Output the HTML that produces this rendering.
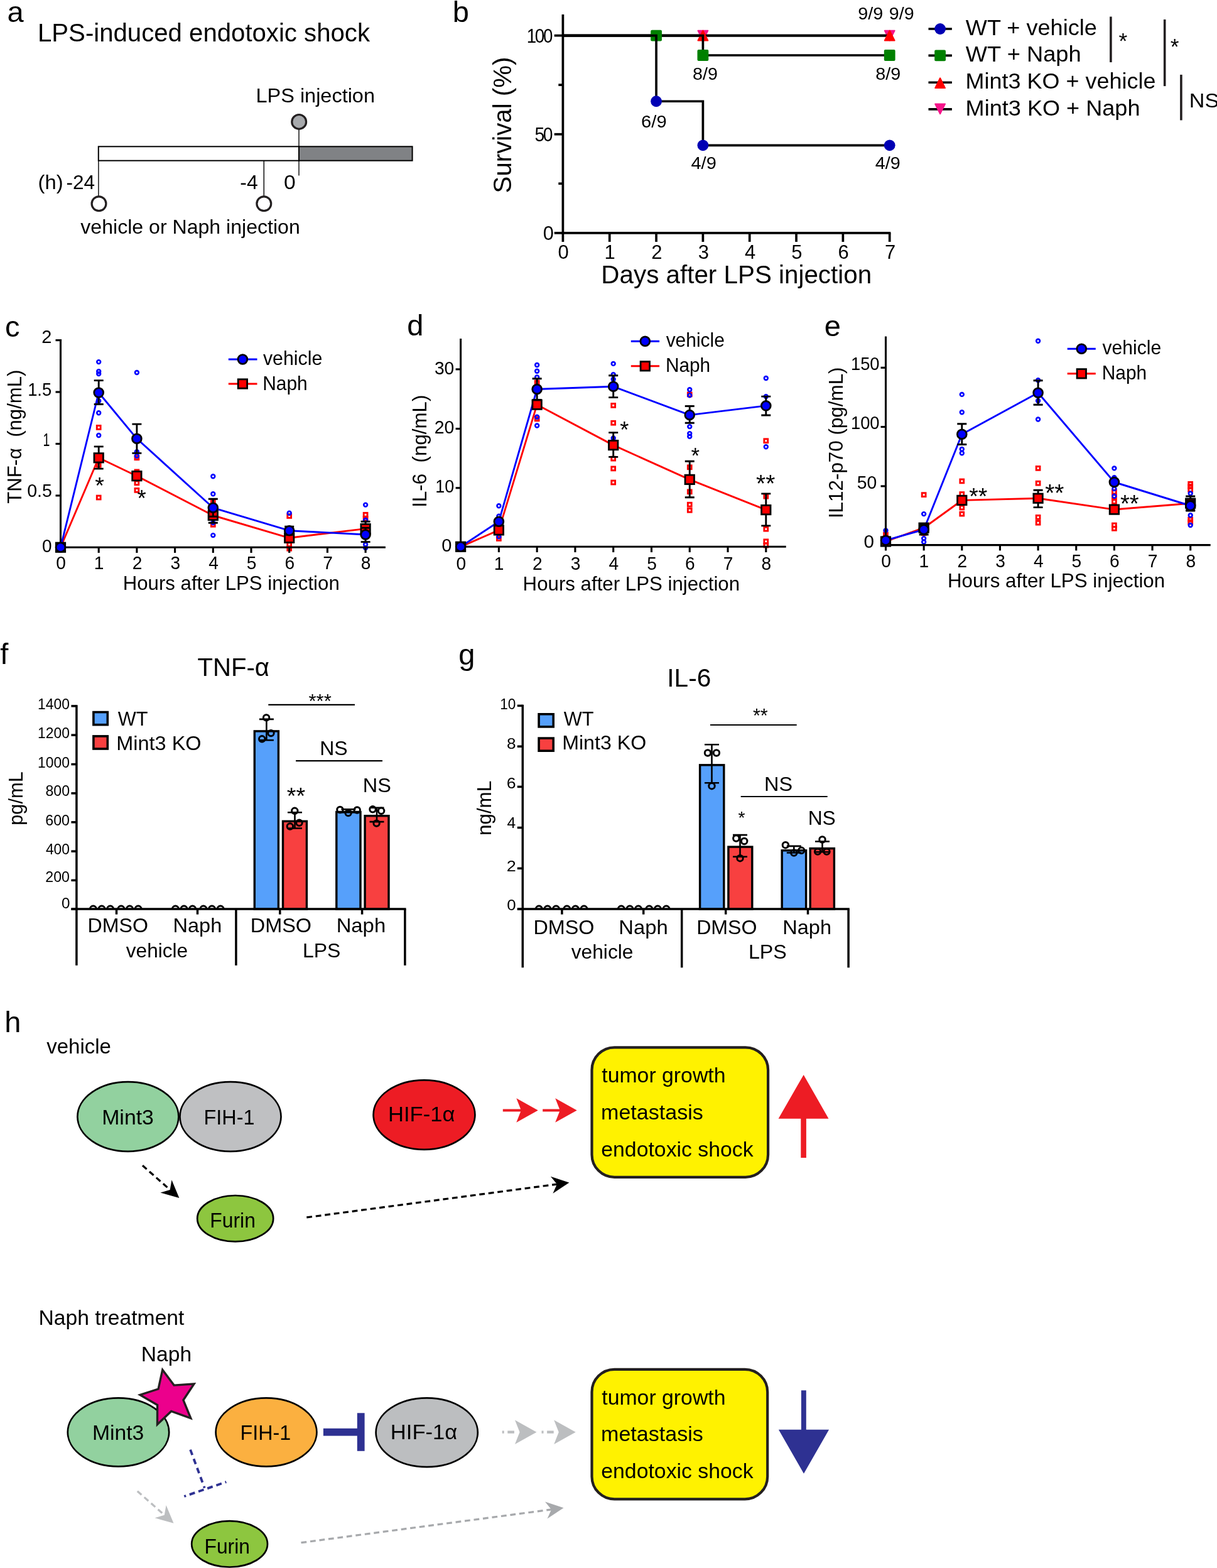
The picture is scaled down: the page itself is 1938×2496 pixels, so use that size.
<!DOCTYPE html>
<html lang="en">
<head>
<meta charset="utf-8">
<title>Figure: Naph attenuates LPS-induced endotoxic shock</title>
<style>
html,body{margin:0;padding:0;background:#fff;}
body{width:1938px;height:2496px;overflow:hidden;}
svg{display:block;}
svg text{font-family:"Liberation Sans",sans-serif;fill:#000;white-space:pre;}
</style>
</head>
<body>
<svg width="1938" height="2496" viewBox="0 0 1938 2496">
<rect width="1938" height="2496" fill="#fff"/>
<g id="pa">
<text x="11.58" y="35.4" font-size="47">a</text>
<text x="59.99" y="66" font-size="40" textLength="529.02" lengthAdjust="spacingAndGlyphs">LPS-induced endotoxic shock</text>
<rect x="476" y="233.3" width="180.6" height="22.4" fill="#808285" stroke="#000" stroke-width="2"/>
<rect x="156.8" y="233.3" width="319.2" height="22.4" fill="#fff" stroke="#000" stroke-width="2"/>
<line x1="156.9" y1="256" x2="156.9" y2="312" stroke-width="1.4" stroke="#000"/>
<line x1="420.3" y1="256" x2="420.3" y2="312" stroke-width="1.4" stroke="#000"/>
<line x1="476" y1="206" x2="476" y2="279.5" stroke-width="1.4" stroke="#000"/>
<circle cx="157.5" cy="324.3" r="11.4" fill="#fff" stroke="#231f20" stroke-width="3.2"/>
<circle cx="420.3" cy="324.3" r="11.4" fill="#fff" stroke="#231f20" stroke-width="3.2"/>
<circle cx="476.2" cy="193.9" r="11.4" fill="#a7a9ac" stroke="#231f20" stroke-width="3.2"/>
<text x="407.5" y="162.7" font-size="32" textLength="189.48" lengthAdjust="spacingAndGlyphs">LPS injection</text>
<text x="60.54" y="300.7" font-size="32" textLength="40" lengthAdjust="spacingAndGlyphs">(h)</text>
<text x="105.58" y="300.7" font-size="32" textLength="45.58" lengthAdjust="spacingAndGlyphs">-24</text>
<text x="382.26" y="300.7" font-size="32" textLength="28.37" lengthAdjust="spacingAndGlyphs">-4</text>
<text x="451.95" y="300.7" font-size="32" textLength="18.73" lengthAdjust="spacingAndGlyphs">0</text>
<text x="128.34" y="372" font-size="32" textLength="349.46" lengthAdjust="spacingAndGlyphs">vehicle or Naph injection</text>
</g>
<g id="pb">
<text x="720.75" y="35.4" font-size="47">b</text>
<g stroke="#000" stroke-width="3.7" stroke-linecap="butt">
<line x1="896.4" y1="23" x2="896.4" y2="372.4"/>
<line x1="882.7" y1="370.8" x2="1418.31" y2="370.8"/>
<line x1="882.7" y1="56.6" x2="896.4" y2="56.6"/>
<line x1="882.7" y1="213.7" x2="896.4" y2="213.7"/>
<line x1="889.3" y1="135.15" x2="896.4" y2="135.15"/>
<line x1="889.3" y1="292.25" x2="896.4" y2="292.25"/>
<line x1="896.4" y1="370.8" x2="896.4" y2="385"/>
<line x1="970.73" y1="370.8" x2="970.73" y2="385"/>
<line x1="1045.06" y1="370.8" x2="1045.06" y2="385"/>
<line x1="1119.39" y1="370.8" x2="1119.39" y2="385"/>
<line x1="1193.72" y1="370.8" x2="1193.72" y2="385"/>
<line x1="1268.05" y1="370.8" x2="1268.05" y2="385"/>
<line x1="1342.38" y1="370.8" x2="1342.38" y2="385"/>
<line x1="1416.71" y1="370.8" x2="1416.71" y2="385"/>
</g>
<path d="M896.4,56.6 H1416.71" fill="none" stroke="#000" stroke-width="3.7"/>
<path d="M1119.39,64.5 L1127.29,48.7 L1111.49,48.7 Z" fill="#f5158a" stroke="#f5158a" stroke-width="2" stroke-linejoin="round"/>
<path d="M1416.71,64.5 L1424.61,48.7 L1408.81,48.7 Z" fill="#f5158a" stroke="#f5158a" stroke-width="2" stroke-linejoin="round"/>
<path d="M896.4,56.6 H1416.71" fill="none" stroke="#000" stroke-width="3.7"/>
<path d="M1119.39,48.7 L1127.29,64.5 L1111.49,64.5 Z" fill="#ff0000" stroke="#ff0000" stroke-width="2" stroke-linejoin="round"/>
<path d="M1416.71,48.7 L1424.61,64.5 L1408.81,64.5 Z" fill="#ff0000" stroke="#ff0000" stroke-width="2" stroke-linejoin="round"/>
<path d="M896.4,56.6 H1119.39 V88.02 H1416.71" fill="none" stroke="#000" stroke-width="3.7"/>
<rect x="1036.16" y="47.7" width="17.8" height="17.8" rx="2" fill="#008000"/>
<rect x="1110.49" y="79.12" width="17.8" height="17.8" rx="2" fill="#008000"/>
<rect x="1407.81" y="79.12" width="17.8" height="17.8" rx="2" fill="#008000"/>
<path d="M896.4,56.6 H1045.06 V161.23 H1119.39 V231.3 H1416.71" fill="none" stroke="#000" stroke-width="3.7"/>
<circle cx="1045.06" cy="161.23" r="8.9" fill="#0000b4"/>
<circle cx="1119.39" cy="231.3" r="8.9" fill="#0000b4"/>
<circle cx="1416.71" cy="231.3" r="8.9" fill="#0000b4"/>
<text transform="translate(838.72,67.6) scale(0.8940,1)" font-size="31" letter-spacing="-2.55">100</text>
<text transform="translate(851.47,225) scale(0.9127,1)" font-size="31" letter-spacing="-2.79">50</text>
<text x="864.77" y="381.8" font-size="31" textLength="17.09" lengthAdjust="spacingAndGlyphs">0</text>
<text x="888.6" y="412" font-size="31" textLength="17.24" lengthAdjust="spacingAndGlyphs">0</text>
<text x="962.54" y="412" font-size="31" textLength="17.24" lengthAdjust="spacingAndGlyphs">1</text>
<text x="1037.26" y="412" font-size="31" textLength="17.24" lengthAdjust="spacingAndGlyphs">2</text>
<text x="1111.66" y="412" font-size="31" textLength="17.24" lengthAdjust="spacingAndGlyphs">3</text>
<text x="1185.99" y="412" font-size="31" textLength="17.24" lengthAdjust="spacingAndGlyphs">4</text>
<text x="1260.25" y="412" font-size="31" textLength="17.24" lengthAdjust="spacingAndGlyphs">5</text>
<text x="1334.5" y="412" font-size="31" textLength="17.24" lengthAdjust="spacingAndGlyphs">6</text>
<text x="1408.91" y="412" font-size="31" textLength="17.24" lengthAdjust="spacingAndGlyphs">7</text>
<g transform="translate(813.6,305.6) rotate(-90)"><text x="-1.81" y="0" font-size="41.5" textLength="216.82" lengthAdjust="spacingAndGlyphs">Survival (%)</text></g>
<text x="957.37" y="451" font-size="40" textLength="430.74" lengthAdjust="spacingAndGlyphs">Days after LPS injection</text>
<text x="1021.14" y="202.8" font-size="27" textLength="40.47" lengthAdjust="spacingAndGlyphs">6/9</text>
<text x="1103.11" y="127.4" font-size="27" textLength="39.78" lengthAdjust="spacingAndGlyphs">8/9</text>
<text x="1100.47" y="268.5" font-size="27" textLength="40.34" lengthAdjust="spacingAndGlyphs">4/9</text>
<text x="1394.31" y="127.4" font-size="27" textLength="39.99" lengthAdjust="spacingAndGlyphs">8/9</text>
<text x="1393.78" y="268.5" font-size="27" textLength="40.02" lengthAdjust="spacingAndGlyphs">4/9</text>
<text x="1366.2" y="31" font-size="27" textLength="40.1" lengthAdjust="spacingAndGlyphs">9/9</text>
<text x="1415.81" y="31" font-size="27" textLength="39.78" lengthAdjust="spacingAndGlyphs">9/9</text>
<line x1="1478.5" y1="46" x2="1515.9" y2="46" stroke-width="3.6" stroke="#000"/>
<line x1="1478.5" y1="88.4" x2="1515.9" y2="88.4" stroke-width="3.6" stroke="#000"/>
<line x1="1478.5" y1="131.3" x2="1515.9" y2="131.3" stroke-width="3.6" stroke="#000"/>
<line x1="1478.5" y1="173.9" x2="1515.9" y2="173.9" stroke-width="3.6" stroke="#000"/>
<circle cx="1497.1" cy="46" r="8.9" fill="#0000b4"/>
<rect x="1488.2" y="79.5" width="17.8" height="17.8" rx="2" fill="#008000"/>
<path d="M1497.1,124.3 L1505,140.1 L1489.2,140.1 Z" fill="#ff0000" stroke="#ff0000" stroke-width="2" stroke-linejoin="round"/>
<path d="M1497.1,181.3 L1505,165.5 L1489.2,165.5 Z" fill="#f5158a" stroke="#f5158a" stroke-width="2" stroke-linejoin="round"/>
<text x="1537.82" y="55.7" font-size="35.3" textLength="209.07" lengthAdjust="spacingAndGlyphs">WT + vehicle</text>
<text x="1537.82" y="98.2" font-size="35.3" textLength="183.91" lengthAdjust="spacingAndGlyphs">WT + Naph</text>
<text x="1537.62" y="141.2" font-size="35.3" textLength="302.81" lengthAdjust="spacingAndGlyphs">Mint3 KO + vehicle</text>
<text x="1537.61" y="184" font-size="35.3" textLength="277.85" lengthAdjust="spacingAndGlyphs">Mint3 KO + Naph</text>
<line x1="1768.9" y1="26.5" x2="1768.9" y2="99.1" stroke-width="3.6" stroke="#231f20"/>
<line x1="1854.7" y1="31" x2="1854.7" y2="137.1" stroke-width="3.6" stroke="#231f20"/>
<line x1="1880.9" y1="118.9" x2="1880.9" y2="191.4" stroke-width="3.6" stroke="#231f20"/>
<text x="1781.49" y="76.65" font-size="35.43" textLength="13.79" lengthAdjust="spacingAndGlyphs">*</text>
<text x="1863.69" y="86.35" font-size="35.43" textLength="13.79" lengthAdjust="spacingAndGlyphs">*</text>
<text x="1893.88" y="171.2" font-size="31.6" textLength="47.3" lengthAdjust="spacingAndGlyphs">NS</text>
</g>
<g id="pc">
<g>
<rect x="154.3" y="677.5" width="5.8" height="5.8" fill="none" stroke="#ff0000" stroke-width="2.9"/>
<rect x="154.3" y="737.5" width="5.8" height="5.8" fill="none" stroke="#ff0000" stroke-width="2.9"/>
<rect x="154.3" y="789.1" width="5.8" height="5.8" fill="none" stroke="#ff0000" stroke-width="2.9"/>
<rect x="215" y="725.9" width="5.8" height="5.8" fill="none" stroke="#ff0000" stroke-width="2.9"/>
<rect x="215" y="748" width="5.8" height="5.8" fill="none" stroke="#ff0000" stroke-width="2.9"/>
<rect x="215" y="765.9" width="5.8" height="5.8" fill="none" stroke="#ff0000" stroke-width="2.9"/>
<rect x="215" y="777.5" width="5.8" height="5.8" fill="none" stroke="#ff0000" stroke-width="2.9"/>
<rect x="336.4" y="796.4" width="5.8" height="5.8" fill="none" stroke="#ff0000" stroke-width="2.9"/>
<rect x="336.4" y="832.4" width="5.8" height="5.8" fill="none" stroke="#ff0000" stroke-width="2.9"/>
<rect x="457.8" y="818.6" width="5.8" height="5.8" fill="none" stroke="#ff0000" stroke-width="2.9"/>
<rect x="457.8" y="863.9" width="5.8" height="5.8" fill="none" stroke="#ff0000" stroke-width="2.9"/>
<rect x="457.8" y="870.4" width="5.8" height="5.8" fill="none" stroke="#ff0000" stroke-width="2.9"/>
<rect x="579.2" y="816.4" width="5.8" height="5.8" fill="none" stroke="#ff0000" stroke-width="2.9"/>
<rect x="579.2" y="822.9" width="5.8" height="5.8" fill="none" stroke="#ff0000" stroke-width="2.9"/>
<rect x="579.2" y="834.4" width="5.8" height="5.8" fill="none" stroke="#ff0000" stroke-width="2.9"/>
<circle cx="157.2" cy="576.1" r="2.85" fill="none" stroke="#0000ff" stroke-width="2.7"/>
<circle cx="157.2" cy="591.3" r="2.85" fill="none" stroke="#0000ff" stroke-width="2.7"/>
<circle cx="157.2" cy="595.1" r="2.85" fill="none" stroke="#0000ff" stroke-width="2.7"/>
<circle cx="157.2" cy="638.3" r="2.85" fill="none" stroke="#0000ff" stroke-width="2.7"/>
<circle cx="157.2" cy="657.2" r="2.85" fill="none" stroke="#0000ff" stroke-width="2.7"/>
<circle cx="157.2" cy="693" r="2.85" fill="none" stroke="#0000ff" stroke-width="2.7"/>
<circle cx="217.9" cy="593" r="2.85" fill="none" stroke="#0000ff" stroke-width="2.7"/>
<circle cx="217.9" cy="719.3" r="2.85" fill="none" stroke="#0000ff" stroke-width="2.7"/>
<circle cx="217.9" cy="725.7" r="2.85" fill="none" stroke="#0000ff" stroke-width="2.7"/>
<circle cx="339.3" cy="758.3" r="2.85" fill="none" stroke="#0000ff" stroke-width="2.7"/>
<circle cx="339.3" cy="786.2" r="2.85" fill="none" stroke="#0000ff" stroke-width="2.7"/>
<circle cx="339.3" cy="832.1" r="2.85" fill="none" stroke="#0000ff" stroke-width="2.7"/>
<circle cx="339.3" cy="852.1" r="2.85" fill="none" stroke="#0000ff" stroke-width="2.7"/>
<circle cx="460.7" cy="816.7" r="2.85" fill="none" stroke="#0000ff" stroke-width="2.7"/>
<circle cx="460.7" cy="848.3" r="2.85" fill="none" stroke="#0000ff" stroke-width="2.7"/>
<circle cx="582.1" cy="803.6" r="2.85" fill="none" stroke="#0000ff" stroke-width="2.7"/>
<circle cx="582.1" cy="827.9" r="2.85" fill="none" stroke="#0000ff" stroke-width="2.7"/>
<circle cx="582.1" cy="866.8" r="2.85" fill="none" stroke="#0000ff" stroke-width="2.7"/>
<circle cx="582.1" cy="872.1" r="2.85" fill="none" stroke="#0000ff" stroke-width="2.7"/>
</g>
<g stroke="#000" stroke-width="3.1">
<line x1="96.5" y1="540.1" x2="96.5" y2="880.1"/>
<line x1="88.5" y1="871.3" x2="613.9" y2="871.3"/>
<line x1="88.5" y1="541.6" x2="96.5" y2="541.6"/>
<line x1="88.5" y1="624" x2="96.5" y2="624"/>
<line x1="88.5" y1="706.45" x2="96.5" y2="706.45"/>
<line x1="88.5" y1="788.9" x2="96.5" y2="788.9"/>
<line x1="88.5" y1="871.3" x2="96.5" y2="871.3"/>
<line x1="157.2" y1="871.3" x2="157.2" y2="880.1"/>
<line x1="217.9" y1="871.3" x2="217.9" y2="880.1"/>
<line x1="278.6" y1="871.3" x2="278.6" y2="880.1"/>
<line x1="339.3" y1="871.3" x2="339.3" y2="880.1"/>
<line x1="400" y1="871.3" x2="400" y2="880.1"/>
<line x1="460.7" y1="871.3" x2="460.7" y2="880.1"/>
<line x1="521.4" y1="871.3" x2="521.4" y2="880.1"/>
<line x1="582.1" y1="871.3" x2="582.1" y2="880.1"/>
</g>
<path d="M96.5,871.3 L157.2,728.8 L217.9,757.7 L339.3,820.5 L460.7,856.3 L582.1,841.6" fill="none" stroke="#ff0000" stroke-width="2.9" stroke-linejoin="round"/>
<path d="M96.5,871.3 L157.2,625 L217.9,698.3 L339.3,808.3 L460.7,844.7 L582.1,851" fill="none" stroke="#0000ff" stroke-width="2.9" stroke-linejoin="round"/>
<path d="M157.2,710.9 V746.1 M149.7,710.9 H164.7 M149.7,746.1 H164.7" fill="none" stroke="#000" stroke-width="2.9"/>
<path d="M339.3,808.3 V832.3 M331.8,808.3 H346.8 M331.8,832.3 H346.8" fill="none" stroke="#000" stroke-width="2.9"/>
<path d="M460.7,849.3 V863.3 M453.2,849.3 H468.2 M453.2,863.3 H468.2" fill="none" stroke="#000" stroke-width="2.9"/>
<path d="M582.1,830.3 V852.3 M574.6,830.3 H589.6 M574.6,852.3 H589.6" fill="none" stroke="#000" stroke-width="2.9"/>
<rect x="89.3" y="864.1" width="14.4" height="14.4" fill="#ff0000" stroke="#000" stroke-width="2.8"/>
<rect x="150" y="721.6" width="14.4" height="14.4" fill="#ff0000" stroke="#000" stroke-width="2.8"/>
<rect x="210.7" y="750.5" width="14.4" height="14.4" fill="#ff0000" stroke="#000" stroke-width="2.8"/>
<rect x="332.1" y="813.3" width="14.4" height="14.4" fill="#ff0000" stroke="#000" stroke-width="2.8"/>
<rect x="453.5" y="849.1" width="14.4" height="14.4" fill="#ff0000" stroke="#000" stroke-width="2.8"/>
<rect x="574.9" y="834.4" width="14.4" height="14.4" fill="#ff0000" stroke="#000" stroke-width="2.8"/>
<path d="M157.2,605.6 V643.5 M149.7,605.6 H164.7 M149.7,643.5 H164.7" fill="none" stroke="#000" stroke-width="2.9"/>
<path d="M217.9,675.1 V721.4 M210.4,675.1 H225.4 M210.4,721.4 H225.4" fill="none" stroke="#000" stroke-width="2.9"/>
<path d="M339.3,794.2 V822.3 M331.8,794.2 H346.8 M331.8,822.3 H346.8" fill="none" stroke="#000" stroke-width="2.9"/>
<path d="M460.7,838.3 V851.3 M453.2,838.3 H468.2 M453.2,851.3 H468.2" fill="none" stroke="#000" stroke-width="2.9"/>
<path d="M582.1,840.3 V862.6 M574.6,840.3 H589.6 M574.6,862.6 H589.6" fill="none" stroke="#000" stroke-width="2.9"/>
<circle cx="96.5" cy="871.3" r="7.4" fill="#0000ff" stroke="#000" stroke-width="2.8"/>
<circle cx="157.2" cy="625" r="7.4" fill="#0000ff" stroke="#000" stroke-width="2.8"/>
<circle cx="217.9" cy="698.3" r="7.4" fill="#0000ff" stroke="#000" stroke-width="2.8"/>
<circle cx="339.3" cy="808.3" r="7.4" fill="#0000ff" stroke="#000" stroke-width="2.8"/>
<circle cx="460.7" cy="844.7" r="7.4" fill="#0000ff" stroke="#000" stroke-width="2.8"/>
<circle cx="582.1" cy="851" r="7.4" fill="#0000ff" stroke="#000" stroke-width="2.8"/>
<text x="89.29" y="906.2" font-size="29" textLength="15.65" lengthAdjust="spacingAndGlyphs">0</text>
<text x="149.64" y="906.2" font-size="29" textLength="15.65" lengthAdjust="spacingAndGlyphs">1</text>
<text x="210.69" y="906.2" font-size="29" textLength="15.65" lengthAdjust="spacingAndGlyphs">2</text>
<text x="271.46" y="906.2" font-size="29" textLength="15.65" lengthAdjust="spacingAndGlyphs">3</text>
<text x="332.16" y="906.2" font-size="29" textLength="15.65" lengthAdjust="spacingAndGlyphs">4</text>
<text x="392.79" y="906.2" font-size="29" textLength="15.65" lengthAdjust="spacingAndGlyphs">5</text>
<text x="453.42" y="906.2" font-size="29" textLength="15.65" lengthAdjust="spacingAndGlyphs">6</text>
<text x="514.19" y="906.2" font-size="29" textLength="15.65" lengthAdjust="spacingAndGlyphs">7</text>
<text x="574.82" y="906.2" font-size="29" textLength="15.65" lengthAdjust="spacingAndGlyphs">8</text>
<text x="66.35" y="546" font-size="29" textLength="16.14" lengthAdjust="spacingAndGlyphs">2</text>
<text x="44.15" y="629.5" font-size="29" textLength="38.05" lengthAdjust="spacingAndGlyphs">1.5</text>
<text x="68.53" y="709.8" font-size="29" textLength="10.86" lengthAdjust="spacingAndGlyphs">1</text>
<text x="43.16" y="791.2" font-size="29" textLength="39.69" lengthAdjust="spacingAndGlyphs">0.5</text>
<text x="66.88" y="878.8" font-size="29" textLength="15.57" lengthAdjust="spacingAndGlyphs">0</text>
<text x="195.7" y="939.1" font-size="32" textLength="345.06" lengthAdjust="spacingAndGlyphs">Hours after LPS injection</text>
<g transform="translate(33.7,801.2) rotate(-90)"><text x="-0.62" y="0" font-size="32" textLength="213.12" lengthAdjust="spacingAndGlyphs">TNF-α  (ng/mL)</text></g>
<line x1="363.8" y1="572" x2="409.5" y2="572" stroke-width="2.9" stroke="#0000ff"/>
<line x1="363.8" y1="611" x2="409.5" y2="611" stroke-width="2.9" stroke="#ff0000"/>
<circle cx="386.4" cy="572" r="7.4" fill="#0000ff" stroke="#000" stroke-width="2.8"/>
<rect x="379.2" y="603.8" width="14.4" height="14.4" fill="#ff0000" stroke="#000" stroke-width="2.8"/>
<text x="418.95" y="581" font-size="32" textLength="94.4" lengthAdjust="spacingAndGlyphs">vehicle</text>
<text x="418.21" y="620.8" font-size="32" textLength="71.56" lengthAdjust="spacingAndGlyphs">Naph</text>
<text x="151.15" y="785.52" font-size="37.71" textLength="14.68" lengthAdjust="spacingAndGlyphs">*</text>
<text x="218.47" y="805.73" font-size="36.57" textLength="14.23" lengthAdjust="spacingAndGlyphs">*</text>
<text x="7.98" y="536" font-size="47">c</text>
</g>
<g id="pd">
<g>
<rect x="791.48" y="854.6" width="5.8" height="5.8" fill="none" stroke="#ff0000" stroke-width="2.9"/>
<rect x="852.25" y="606.1" width="5.8" height="5.8" fill="none" stroke="#ff0000" stroke-width="2.9"/>
<rect x="852.25" y="664" width="5.8" height="5.8" fill="none" stroke="#ff0000" stroke-width="2.9"/>
<rect x="973.8" y="642.5" width="5.8" height="5.8" fill="none" stroke="#ff0000" stroke-width="2.9"/>
<rect x="973.8" y="670.3" width="5.8" height="5.8" fill="none" stroke="#ff0000" stroke-width="2.9"/>
<rect x="973.8" y="727.2" width="5.8" height="5.8" fill="none" stroke="#ff0000" stroke-width="2.9"/>
<rect x="973.8" y="743" width="5.8" height="5.8" fill="none" stroke="#ff0000" stroke-width="2.9"/>
<rect x="973.8" y="765.1" width="5.8" height="5.8" fill="none" stroke="#ff0000" stroke-width="2.9"/>
<rect x="1095.35" y="625" width="5.8" height="5.8" fill="none" stroke="#ff0000" stroke-width="2.9"/>
<rect x="1095.35" y="740.9" width="5.8" height="5.8" fill="none" stroke="#ff0000" stroke-width="2.9"/>
<rect x="1095.35" y="779.9" width="5.8" height="5.8" fill="none" stroke="#ff0000" stroke-width="2.9"/>
<rect x="1095.35" y="800.3" width="5.8" height="5.8" fill="none" stroke="#ff0000" stroke-width="2.9"/>
<rect x="1095.35" y="809.4" width="5.8" height="5.8" fill="none" stroke="#ff0000" stroke-width="2.9"/>
<rect x="1216.9" y="698.8" width="5.8" height="5.8" fill="none" stroke="#ff0000" stroke-width="2.9"/>
<rect x="1216.9" y="787.3" width="5.8" height="5.8" fill="none" stroke="#ff0000" stroke-width="2.9"/>
<rect x="1216.9" y="839.3" width="5.8" height="5.8" fill="none" stroke="#ff0000" stroke-width="2.9"/>
<rect x="1216.9" y="858.9" width="5.8" height="5.8" fill="none" stroke="#ff0000" stroke-width="2.9"/>
<rect x="1216.9" y="865.2" width="5.8" height="5.8" fill="none" stroke="#ff0000" stroke-width="2.9"/>
<circle cx="794.38" cy="805.3" r="2.85" fill="none" stroke="#0000ff" stroke-width="2.7"/>
<circle cx="794.38" cy="821.8" r="2.85" fill="none" stroke="#0000ff" stroke-width="2.7"/>
<circle cx="794.38" cy="854.4" r="2.85" fill="none" stroke="#0000ff" stroke-width="2.7"/>
<circle cx="855.15" cy="581" r="2.85" fill="none" stroke="#0000ff" stroke-width="2.7"/>
<circle cx="855.15" cy="590.7" r="2.85" fill="none" stroke="#0000ff" stroke-width="2.7"/>
<circle cx="855.15" cy="600.5" r="2.85" fill="none" stroke="#0000ff" stroke-width="2.7"/>
<circle cx="855.15" cy="663.8" r="2.85" fill="none" stroke="#0000ff" stroke-width="2.7"/>
<circle cx="855.15" cy="677.5" r="2.85" fill="none" stroke="#0000ff" stroke-width="2.7"/>
<circle cx="976.7" cy="578.9" r="2.85" fill="none" stroke="#0000ff" stroke-width="2.7"/>
<circle cx="976.7" cy="596.3" r="2.85" fill="none" stroke="#0000ff" stroke-width="2.7"/>
<circle cx="976.7" cy="603.7" r="2.85" fill="none" stroke="#0000ff" stroke-width="2.7"/>
<circle cx="976.7" cy="697.5" r="2.85" fill="none" stroke="#0000ff" stroke-width="2.7"/>
<circle cx="1098.25" cy="620.2" r="2.85" fill="none" stroke="#0000ff" stroke-width="2.7"/>
<circle cx="1098.25" cy="629.4" r="2.85" fill="none" stroke="#0000ff" stroke-width="2.7"/>
<circle cx="1098.25" cy="679.1" r="2.85" fill="none" stroke="#0000ff" stroke-width="2.7"/>
<circle cx="1098.25" cy="690.1" r="2.85" fill="none" stroke="#0000ff" stroke-width="2.7"/>
<circle cx="1098.25" cy="694.7" r="2.85" fill="none" stroke="#0000ff" stroke-width="2.7"/>
<circle cx="1219.8" cy="602" r="2.85" fill="none" stroke="#0000ff" stroke-width="2.7"/>
<circle cx="1219.8" cy="631.1" r="2.85" fill="none" stroke="#0000ff" stroke-width="2.7"/>
<circle cx="1219.8" cy="711.2" r="2.85" fill="none" stroke="#0000ff" stroke-width="2.7"/>
</g>
<g stroke="#000" stroke-width="3.1">
<line x1="733.6" y1="539.1" x2="733.6" y2="879.1"/>
<line x1="725.6" y1="870.3" x2="1251.7" y2="870.3"/>
<line x1="725.6" y1="587.85" x2="733.6" y2="587.85"/>
<line x1="725.6" y1="682.45" x2="733.6" y2="682.45"/>
<line x1="725.6" y1="776.75" x2="733.6" y2="776.75"/>
<line x1="725.6" y1="870.3" x2="733.6" y2="870.3"/>
<line x1="794.38" y1="870.3" x2="794.38" y2="879.1"/>
<line x1="855.15" y1="870.3" x2="855.15" y2="879.1"/>
<line x1="915.92" y1="870.3" x2="915.92" y2="879.1"/>
<line x1="976.7" y1="870.3" x2="976.7" y2="879.1"/>
<line x1="1037.47" y1="870.3" x2="1037.47" y2="879.1"/>
<line x1="1098.25" y1="870.3" x2="1098.25" y2="879.1"/>
<line x1="1159.03" y1="870.3" x2="1159.03" y2="879.1"/>
<line x1="1219.8" y1="870.3" x2="1219.8" y2="879.1"/>
</g>
<path d="M733.6,870.3 L794.38,843.9 L855.15,644.2 L976.7,708.6 L1098.25,763.4 L1219.8,811.6" fill="none" stroke="#ff0000" stroke-width="2.9" stroke-linejoin="round"/>
<path d="M733.6,870.3 L794.38,830.2 L855.15,619.5 L976.7,615.3 L1098.25,660.6 L1219.8,645.9" fill="none" stroke="#0000ff" stroke-width="2.9" stroke-linejoin="round"/>
<path d="M976.7,688.6 V727.4 M969.2,688.6 H984.2 M969.2,727.4 H984.2" fill="none" stroke="#000" stroke-width="2.9"/>
<path d="M1098.25,734.3 V791.8 M1090.75,734.3 H1105.75 M1090.75,791.8 H1105.75" fill="none" stroke="#000" stroke-width="2.9"/>
<path d="M1219.8,785.9 V836.9 M1212.3,785.9 H1227.3 M1212.3,836.9 H1227.3" fill="none" stroke="#000" stroke-width="2.9"/>
<rect x="726.4" y="863.1" width="14.4" height="14.4" fill="#ff0000" stroke="#000" stroke-width="2.8"/>
<rect x="787.17" y="836.7" width="14.4" height="14.4" fill="#ff0000" stroke="#000" stroke-width="2.8"/>
<rect x="847.95" y="637" width="14.4" height="14.4" fill="#ff0000" stroke="#000" stroke-width="2.8"/>
<rect x="969.5" y="701.4" width="14.4" height="14.4" fill="#ff0000" stroke="#000" stroke-width="2.8"/>
<rect x="1091.05" y="756.2" width="14.4" height="14.4" fill="#ff0000" stroke="#000" stroke-width="2.8"/>
<rect x="1212.6" y="804.4" width="14.4" height="14.4" fill="#ff0000" stroke="#000" stroke-width="2.8"/>
<path d="M855.15,602.7 V636.5 M847.65,602.7 H862.65 M847.65,636.5 H862.65" fill="none" stroke="#000" stroke-width="2.9"/>
<path d="M976.7,597.8 V632.6 M969.2,597.8 H984.2 M969.2,632.6 H984.2" fill="none" stroke="#000" stroke-width="2.9"/>
<path d="M1098.25,646.5 V673.2 M1090.75,646.5 H1105.75 M1090.75,673.2 H1105.75" fill="none" stroke="#000" stroke-width="2.9"/>
<path d="M1219.8,631.1 V661 M1212.3,631.1 H1227.3 M1212.3,661 H1227.3" fill="none" stroke="#000" stroke-width="2.9"/>
<circle cx="733.6" cy="870.3" r="7.4" fill="#0000ff" stroke="#000" stroke-width="2.8"/>
<circle cx="794.38" cy="830.2" r="7.4" fill="#0000ff" stroke="#000" stroke-width="2.8"/>
<circle cx="855.15" cy="619.5" r="7.4" fill="#0000ff" stroke="#000" stroke-width="2.8"/>
<circle cx="976.7" cy="615.3" r="7.4" fill="#0000ff" stroke="#000" stroke-width="2.8"/>
<circle cx="1098.25" cy="660.6" r="7.4" fill="#0000ff" stroke="#000" stroke-width="2.8"/>
<circle cx="1219.8" cy="645.9" r="7.4" fill="#0000ff" stroke="#000" stroke-width="2.8"/>
<text x="726.39" y="907.3" font-size="29" textLength="15.65" lengthAdjust="spacingAndGlyphs">0</text>
<text x="786.82" y="907.3" font-size="29" textLength="15.65" lengthAdjust="spacingAndGlyphs">1</text>
<text x="847.94" y="907.3" font-size="29" textLength="15.65" lengthAdjust="spacingAndGlyphs">2</text>
<text x="908.79" y="907.3" font-size="29" textLength="15.65" lengthAdjust="spacingAndGlyphs">3</text>
<text x="969.56" y="907.3" font-size="29" textLength="15.65" lengthAdjust="spacingAndGlyphs">4</text>
<text x="1030.27" y="907.3" font-size="29" textLength="15.65" lengthAdjust="spacingAndGlyphs">5</text>
<text x="1090.97" y="907.3" font-size="29" textLength="15.65" lengthAdjust="spacingAndGlyphs">6</text>
<text x="1151.82" y="907.3" font-size="29" textLength="15.65" lengthAdjust="spacingAndGlyphs">7</text>
<text x="1212.52" y="907.3" font-size="29" textLength="15.65" lengthAdjust="spacingAndGlyphs">8</text>
<text x="691.97" y="596.2" font-size="29" textLength="31.32" lengthAdjust="spacingAndGlyphs">30</text>
<text x="691.68" y="690" font-size="29" textLength="31.63" lengthAdjust="spacingAndGlyphs">20</text>
<text x="693.28" y="784.4" font-size="29" textLength="29.96" lengthAdjust="spacingAndGlyphs">10</text>
<text x="703.24" y="878.4" font-size="29" textLength="16.16" lengthAdjust="spacingAndGlyphs">0</text>
<text x="832.6" y="940.3" font-size="32" textLength="345.47" lengthAdjust="spacingAndGlyphs">Hours after LPS injection</text>
<g transform="translate(679,805) rotate(-90)"><text x="-2.82" y="0" font-size="32" textLength="179.23" lengthAdjust="spacingAndGlyphs">IL-6  (ng/mL)</text></g>
<line x1="1004.8" y1="543.2" x2="1050.1" y2="543.2" stroke-width="2.9" stroke="#0000ff"/>
<line x1="1004.8" y1="582.8" x2="1050.1" y2="582.8" stroke-width="2.9" stroke="#ff0000"/>
<circle cx="1027.3" cy="543.2" r="7.4" fill="#0000ff" stroke="#000" stroke-width="2.8"/>
<rect x="1020.1" y="575.6" width="14.4" height="14.4" fill="#ff0000" stroke="#000" stroke-width="2.8"/>
<text x="1060.65" y="551.9" font-size="32" textLength="93.18" lengthAdjust="spacingAndGlyphs">vehicle</text>
<text x="1059.92" y="591.5" font-size="32" textLength="71.24" lengthAdjust="spacingAndGlyphs">Naph</text>
<text x="987.17" y="696.54" font-size="36.29" textLength="14.12" lengthAdjust="spacingAndGlyphs">*</text>
<text x="1100.6" y="737.05" font-size="34.86" textLength="13.56" lengthAdjust="spacingAndGlyphs">*</text>
<text x="1204.12" y="783.05" font-size="38.92" textLength="30.29" lengthAdjust="spacingAndGlyphs">**</text>
<text x="648.22" y="534.1" font-size="47">d</text>
</g>
<g id="pe">
<g>
<rect x="1407.6" y="848.1" width="5.8" height="5.8" fill="none" stroke="#ff0000" stroke-width="2.9"/>
<rect x="1468.25" y="784.7" width="5.8" height="5.8" fill="none" stroke="#ff0000" stroke-width="2.9"/>
<rect x="1468.25" y="845.7" width="5.8" height="5.8" fill="none" stroke="#ff0000" stroke-width="2.9"/>
<rect x="1528.9" y="763" width="5.8" height="5.8" fill="none" stroke="#ff0000" stroke-width="2.9"/>
<rect x="1528.9" y="783.6" width="5.8" height="5.8" fill="none" stroke="#ff0000" stroke-width="2.9"/>
<rect x="1528.9" y="805.1" width="5.8" height="5.8" fill="none" stroke="#ff0000" stroke-width="2.9"/>
<rect x="1528.9" y="815.2" width="5.8" height="5.8" fill="none" stroke="#ff0000" stroke-width="2.9"/>
<rect x="1650.2" y="742.5" width="5.8" height="5.8" fill="none" stroke="#ff0000" stroke-width="2.9"/>
<rect x="1650.2" y="766.3" width="5.8" height="5.8" fill="none" stroke="#ff0000" stroke-width="2.9"/>
<rect x="1650.2" y="820.5" width="5.8" height="5.8" fill="none" stroke="#ff0000" stroke-width="2.9"/>
<rect x="1650.2" y="829.3" width="5.8" height="5.8" fill="none" stroke="#ff0000" stroke-width="2.9"/>
<rect x="1771.5" y="780.1" width="5.8" height="5.8" fill="none" stroke="#ff0000" stroke-width="2.9"/>
<rect x="1771.5" y="787.8" width="5.8" height="5.8" fill="none" stroke="#ff0000" stroke-width="2.9"/>
<rect x="1771.5" y="795.7" width="5.8" height="5.8" fill="none" stroke="#ff0000" stroke-width="2.9"/>
<rect x="1771.5" y="833.1" width="5.8" height="5.8" fill="none" stroke="#ff0000" stroke-width="2.9"/>
<rect x="1771.5" y="838.4" width="5.8" height="5.8" fill="none" stroke="#ff0000" stroke-width="2.9"/>
<rect x="1892.8" y="767.4" width="5.8" height="5.8" fill="none" stroke="#ff0000" stroke-width="2.9"/>
<rect x="1892.8" y="771.6" width="5.8" height="5.8" fill="none" stroke="#ff0000" stroke-width="2.9"/>
<rect x="1892.8" y="776.6" width="5.8" height="5.8" fill="none" stroke="#ff0000" stroke-width="2.9"/>
<rect x="1892.8" y="824.1" width="5.8" height="5.8" fill="none" stroke="#ff0000" stroke-width="2.9"/>
<rect x="1892.8" y="828.1" width="5.8" height="5.8" fill="none" stroke="#ff0000" stroke-width="2.9"/>
<circle cx="1410.5" cy="844.4" r="2.85" fill="none" stroke="#0000ff" stroke-width="2.7"/>
<circle cx="1471.15" cy="818.1" r="2.85" fill="none" stroke="#0000ff" stroke-width="2.7"/>
<circle cx="1471.15" cy="857.1" r="2.85" fill="none" stroke="#0000ff" stroke-width="2.7"/>
<circle cx="1471.15" cy="862.8" r="2.85" fill="none" stroke="#0000ff" stroke-width="2.7"/>
<circle cx="1531.8" cy="627.9" r="2.85" fill="none" stroke="#0000ff" stroke-width="2.7"/>
<circle cx="1531.8" cy="656.3" r="2.85" fill="none" stroke="#0000ff" stroke-width="2.7"/>
<circle cx="1531.8" cy="714.9" r="2.85" fill="none" stroke="#0000ff" stroke-width="2.7"/>
<circle cx="1531.8" cy="721.2" r="2.85" fill="none" stroke="#0000ff" stroke-width="2.7"/>
<circle cx="1653.1" cy="542.8" r="2.85" fill="none" stroke="#0000ff" stroke-width="2.7"/>
<circle cx="1653.1" cy="605.3" r="2.85" fill="none" stroke="#0000ff" stroke-width="2.7"/>
<circle cx="1653.1" cy="638" r="2.85" fill="none" stroke="#0000ff" stroke-width="2.7"/>
<circle cx="1653.1" cy="667.5" r="2.85" fill="none" stroke="#0000ff" stroke-width="2.7"/>
<circle cx="1774.4" cy="745.4" r="2.85" fill="none" stroke="#0000ff" stroke-width="2.7"/>
<circle cx="1774.4" cy="760.2" r="2.85" fill="none" stroke="#0000ff" stroke-width="2.7"/>
<circle cx="1774.4" cy="778.1" r="2.85" fill="none" stroke="#0000ff" stroke-width="2.7"/>
<circle cx="1774.4" cy="789.7" r="2.85" fill="none" stroke="#0000ff" stroke-width="2.7"/>
<circle cx="1895.7" cy="785.4" r="2.85" fill="none" stroke="#0000ff" stroke-width="2.7"/>
<circle cx="1895.7" cy="820.2" r="2.85" fill="none" stroke="#0000ff" stroke-width="2.7"/>
<circle cx="1895.7" cy="836" r="2.85" fill="none" stroke="#0000ff" stroke-width="2.7"/>
</g>
<g stroke="#000" stroke-width="3.1">
<line x1="1410.5" y1="535.5" x2="1410.5" y2="876.4"/>
<line x1="1402.5" y1="867.6" x2="1927.7" y2="867.6"/>
<line x1="1402.5" y1="585.3" x2="1410.5" y2="585.3"/>
<line x1="1402.5" y1="679.5" x2="1410.5" y2="679.5"/>
<line x1="1402.5" y1="773.9" x2="1410.5" y2="773.9"/>
<line x1="1402.5" y1="867.6" x2="1410.5" y2="867.6"/>
<line x1="1471.15" y1="867.6" x2="1471.15" y2="876.4"/>
<line x1="1531.8" y1="867.6" x2="1531.8" y2="876.4"/>
<line x1="1592.45" y1="867.6" x2="1592.45" y2="876.4"/>
<line x1="1653.1" y1="867.6" x2="1653.1" y2="876.4"/>
<line x1="1713.75" y1="867.6" x2="1713.75" y2="876.4"/>
<line x1="1774.4" y1="867.6" x2="1774.4" y2="876.4"/>
<line x1="1835.05" y1="867.6" x2="1835.05" y2="876.4"/>
<line x1="1895.7" y1="867.6" x2="1895.7" y2="876.4"/>
</g>
<path d="M1410.5,862 L1471.15,840.2 L1531.8,796.4 L1653.1,793.2 L1774.4,811.1 L1895.7,801.2" fill="none" stroke="#ff0000" stroke-width="2.9" stroke-linejoin="round"/>
<path d="M1410.5,860.2 L1471.15,843 L1531.8,691.3 L1653.1,625.3 L1774.4,767.5 L1895.7,805" fill="none" stroke="#0000ff" stroke-width="2.9" stroke-linejoin="round"/>
<path d="M1653.1,780.2 V807.6 M1645.6,780.2 H1660.6 M1645.6,807.6 H1660.6" fill="none" stroke="#000" stroke-width="2.9"/>
<path d="M1895.7,790 V812 M1888.2,790 H1903.2 M1888.2,812 H1903.2" fill="none" stroke="#000" stroke-width="2.9"/>
<rect x="1403.3" y="854.8" width="14.4" height="14.4" fill="#ff0000" stroke="#000" stroke-width="2.8"/>
<rect x="1463.95" y="833" width="14.4" height="14.4" fill="#ff0000" stroke="#000" stroke-width="2.8"/>
<rect x="1524.6" y="789.2" width="14.4" height="14.4" fill="#ff0000" stroke="#000" stroke-width="2.8"/>
<rect x="1645.9" y="786" width="14.4" height="14.4" fill="#ff0000" stroke="#000" stroke-width="2.8"/>
<rect x="1767.2" y="803.9" width="14.4" height="14.4" fill="#ff0000" stroke="#000" stroke-width="2.8"/>
<rect x="1888.5" y="794" width="14.4" height="14.4" fill="#ff0000" stroke="#000" stroke-width="2.8"/>
<path d="M1471.15,835 V851 M1463.65,835 H1478.65 M1463.65,851 H1478.65" fill="none" stroke="#000" stroke-width="2.9"/>
<path d="M1531.8,674.8 V707.5 M1524.3,674.8 H1539.3 M1524.3,707.5 H1539.3" fill="none" stroke="#000" stroke-width="2.9"/>
<path d="M1653.1,605.8 V644.3 M1645.6,605.8 H1660.6 M1645.6,644.3 H1660.6" fill="none" stroke="#000" stroke-width="2.9"/>
<path d="M1895.7,797 V813 M1888.2,797 H1903.2 M1888.2,813 H1903.2" fill="none" stroke="#000" stroke-width="2.9"/>
<circle cx="1410.5" cy="860.2" r="7.4" fill="#0000ff" stroke="#000" stroke-width="2.8"/>
<circle cx="1471.15" cy="843" r="7.4" fill="#0000ff" stroke="#000" stroke-width="2.8"/>
<circle cx="1531.8" cy="691.3" r="7.4" fill="#0000ff" stroke="#000" stroke-width="2.8"/>
<circle cx="1653.1" cy="625.3" r="7.4" fill="#0000ff" stroke="#000" stroke-width="2.8"/>
<circle cx="1774.4" cy="767.5" r="7.4" fill="#0000ff" stroke="#000" stroke-width="2.8"/>
<circle cx="1895.7" cy="805" r="7.4" fill="#0000ff" stroke="#000" stroke-width="2.8"/>
<text x="1403.29" y="902.8" font-size="29" textLength="15.65" lengthAdjust="spacingAndGlyphs">0</text>
<text x="1463.59" y="902.8" font-size="29" textLength="15.65" lengthAdjust="spacingAndGlyphs">1</text>
<text x="1524.59" y="902.8" font-size="29" textLength="15.65" lengthAdjust="spacingAndGlyphs">2</text>
<text x="1585.31" y="902.8" font-size="29" textLength="15.65" lengthAdjust="spacingAndGlyphs">3</text>
<text x="1645.96" y="902.8" font-size="29" textLength="15.65" lengthAdjust="spacingAndGlyphs">4</text>
<text x="1706.54" y="902.8" font-size="29" textLength="15.65" lengthAdjust="spacingAndGlyphs">5</text>
<text x="1767.12" y="902.8" font-size="29" textLength="15.65" lengthAdjust="spacingAndGlyphs">6</text>
<text x="1827.84" y="902.8" font-size="29" textLength="15.65" lengthAdjust="spacingAndGlyphs">7</text>
<text x="1888.42" y="902.8" font-size="29" textLength="15.65" lengthAdjust="spacingAndGlyphs">8</text>
<text x="1354.95" y="589.3" font-size="29" textLength="45.64" lengthAdjust="spacingAndGlyphs">150</text>
<text x="1354.95" y="683.1" font-size="29" textLength="45.64" lengthAdjust="spacingAndGlyphs">100</text>
<text x="1364.67" y="777.5" font-size="29" textLength="31.53" lengthAdjust="spacingAndGlyphs">50</text>
<text x="1375.61" y="872.1" font-size="29" textLength="16.51" lengthAdjust="spacingAndGlyphs">0</text>
<text x="1508.9" y="935" font-size="32" textLength="346.28" lengthAdjust="spacingAndGlyphs">Hours after LPS injection</text>
<g transform="translate(1341.6,822.3) rotate(-90)"><text x="-2.82" y="0" font-size="32" textLength="240.64" lengthAdjust="spacingAndGlyphs">IL12-p70 (pg/mL)</text></g>
<line x1="1699.7" y1="555.2" x2="1744.8" y2="555.2" stroke-width="2.9" stroke="#0000ff"/>
<line x1="1699.7" y1="594.8" x2="1744.8" y2="594.8" stroke-width="2.9" stroke="#ff0000"/>
<circle cx="1722.3" cy="555.2" r="7.4" fill="#0000ff" stroke="#000" stroke-width="2.8"/>
<rect x="1715.1" y="587.6" width="14.4" height="14.4" fill="#ff0000" stroke="#000" stroke-width="2.8"/>
<text x="1755.55" y="564.1" font-size="32" textLength="93.69" lengthAdjust="spacingAndGlyphs">vehicle</text>
<text x="1754.81" y="603.5" font-size="32" textLength="71.35" lengthAdjust="spacingAndGlyphs">Naph</text>
<text x="1543.35" y="802.64" font-size="37.3" textLength="29.03" lengthAdjust="spacingAndGlyphs">**</text>
<text x="1664.22" y="798.05" font-size="38.92" textLength="30.29" lengthAdjust="spacingAndGlyphs">**</text>
<text x="1783.94" y="814.79" font-size="38.11" textLength="29.66" lengthAdjust="spacingAndGlyphs">**</text>
<text x="1312.79" y="535" font-size="47">e</text>
</g>
<g id="pf">
<g>
<path d="M143.4,1447.1 A5,5 0 0 1 153.4,1447.1" fill="none" stroke="#000" stroke-width="3"/>
<path d="M157,1447.1 A5,5 0 0 1 167,1447.1" fill="none" stroke="#000" stroke-width="3"/>
<path d="M170.6,1447.1 A5,5 0 0 1 180.6,1447.1" fill="none" stroke="#000" stroke-width="3"/>
<path d="M187.9,1447.1 A5,5 0 0 1 197.9,1447.1" fill="none" stroke="#000" stroke-width="3"/>
<path d="M201.5,1447.1 A5,5 0 0 1 211.5,1447.1" fill="none" stroke="#000" stroke-width="3"/>
<path d="M215.1,1447.1 A5,5 0 0 1 225.1,1447.1" fill="none" stroke="#000" stroke-width="3"/>
<path d="M274.4,1447.1 A5,5 0 0 1 284.4,1447.1" fill="none" stroke="#000" stroke-width="3"/>
<path d="M288,1447.1 A5,5 0 0 1 298,1447.1" fill="none" stroke="#000" stroke-width="3"/>
<path d="M301.6,1447.1 A5,5 0 0 1 311.6,1447.1" fill="none" stroke="#000" stroke-width="3"/>
<path d="M318.9,1447.1 A5,5 0 0 1 328.9,1447.1" fill="none" stroke="#000" stroke-width="3"/>
<path d="M332.5,1447.1 A5,5 0 0 1 342.5,1447.1" fill="none" stroke="#000" stroke-width="3"/>
<path d="M346.1,1447.1 A5,5 0 0 1 356.1,1447.1" fill="none" stroke="#000" stroke-width="3"/>
</g>
<rect x="405.3" y="1163.9" width="38.1" height="283.2" fill="#56a0fb" stroke="#000" stroke-width="3.4"/>
<rect x="450.5" y="1307.3" width="37.9" height="139.8" fill="#f84040" stroke="#000" stroke-width="3.4"/>
<rect x="535.8" y="1292.5" width="38.2" height="154.6" fill="#56a0fb" stroke="#000" stroke-width="3.4"/>
<rect x="581.1" y="1298.7" width="37.9" height="148.4" fill="#f84040" stroke="#000" stroke-width="3.4"/>
<path d="M424.4,1144.9 V1178.3 M412.9,1144.9 H435.9 M412.9,1178.3 H435.9" fill="none" stroke="#000" stroke-width="2.6"/>
<circle cx="424.1" cy="1142.4" r="4.7" fill="none" stroke="#000" stroke-width="3"/>
<circle cx="431.5" cy="1167.1" r="4.7" fill="none" stroke="#000" stroke-width="3"/>
<circle cx="417.2" cy="1176.3" r="4.7" fill="none" stroke="#000" stroke-width="3"/>
<path d="M469.5,1293.2 V1318.5 M458,1293.2 H481 M458,1318.5 H481" fill="none" stroke="#000" stroke-width="2.6"/>
<circle cx="469.3" cy="1290.8" r="4.7" fill="none" stroke="#000" stroke-width="3"/>
<circle cx="476.5" cy="1309.8" r="4.7" fill="none" stroke="#000" stroke-width="3"/>
<circle cx="461.9" cy="1315.5" r="4.7" fill="none" stroke="#000" stroke-width="3"/>
<path d="M554.9,1288.3 V1293.2 M543.4,1288.3 H566.4 M543.4,1293.2 H566.4" fill="none" stroke="#000" stroke-width="2.6"/>
<circle cx="541.5" cy="1289" r="4.7" fill="none" stroke="#000" stroke-width="3"/>
<circle cx="554.6" cy="1294" r="4.7" fill="none" stroke="#000" stroke-width="3"/>
<circle cx="568.7" cy="1289.5" r="4.7" fill="none" stroke="#000" stroke-width="3"/>
<path d="M600,1285.8 V1308.1 M588.5,1285.8 H611.5 M588.5,1308.1 H611.5" fill="none" stroke="#000" stroke-width="2.6"/>
<circle cx="593.5" cy="1288.3" r="4.7" fill="none" stroke="#000" stroke-width="3"/>
<circle cx="607.1" cy="1290.8" r="4.7" fill="none" stroke="#000" stroke-width="3"/>
<circle cx="599.6" cy="1310.6" r="4.7" fill="none" stroke="#000" stroke-width="3"/>
<g stroke="#000" stroke-width="3.5">
<line x1="121.9" y1="1122.2" x2="121.9" y2="1536.8"/>
<line x1="113.4" y1="1447.1" x2="646.6" y2="1447.1"/>
<line x1="113.4" y1="1123.9" x2="121.9" y2="1123.9"/>
<line x1="113.4" y1="1170.1" x2="121.9" y2="1170.1"/>
<line x1="113.4" y1="1216.6" x2="121.9" y2="1216.6"/>
<line x1="113.4" y1="1262.8" x2="121.9" y2="1262.8"/>
<line x1="113.4" y1="1308.8" x2="121.9" y2="1308.8"/>
<line x1="113.4" y1="1355.1" x2="121.9" y2="1355.1"/>
<line x1="113.4" y1="1401.3" x2="121.9" y2="1401.3"/>
<line x1="113.4" y1="1447.1" x2="121.9" y2="1447.1"/>
<line x1="185.5" y1="1447.1" x2="185.5" y2="1455.6"/>
<line x1="314.5" y1="1447.1" x2="314.5" y2="1455.6"/>
<line x1="445.8" y1="1447.1" x2="445.8" y2="1455.6"/>
<line x1="576.6" y1="1447.1" x2="576.6" y2="1455.6"/>
<line x1="375.9" y1="1447.1" x2="375.9" y2="1536.8"/>
<line x1="644.9" y1="1447.1" x2="644.9" y2="1536.8"/>
</g>
<text x="60.09" y="1129.4" font-size="24" textLength="50.82" lengthAdjust="spacingAndGlyphs">1400</text>
<text x="60.09" y="1175.1" font-size="24" textLength="50.82" lengthAdjust="spacingAndGlyphs">1200</text>
<text x="60.09" y="1222.1" font-size="24" textLength="50.82" lengthAdjust="spacingAndGlyphs">1000</text>
<text x="72.46" y="1267.4" font-size="24" textLength="38.54" lengthAdjust="spacingAndGlyphs">800</text>
<text x="72.34" y="1313.6" font-size="24" textLength="38.67" lengthAdjust="spacingAndGlyphs">600</text>
<text x="72.93" y="1359.9" font-size="24" textLength="38.06" lengthAdjust="spacingAndGlyphs">400</text>
<text x="72.34" y="1404.4" font-size="24" textLength="38.67" lengthAdjust="spacingAndGlyphs">200</text>
<text x="98.03" y="1446.4" font-size="24" textLength="13.47" lengthAdjust="spacingAndGlyphs">0</text>
<text x="139.63" y="1483.8" font-size="32" textLength="96.38" lengthAdjust="spacingAndGlyphs">DMSO</text>
<text x="275.6" y="1483.8" font-size="32" textLength="77.63" lengthAdjust="spacingAndGlyphs">Naph</text>
<text x="200.84" y="1523.8" font-size="32" textLength="98.17" lengthAdjust="spacingAndGlyphs">vehicle</text>
<text x="398.7" y="1483.8" font-size="32" textLength="97.42" lengthAdjust="spacingAndGlyphs">DMSO</text>
<text x="535.67" y="1483.8" font-size="32" textLength="78.48" lengthAdjust="spacingAndGlyphs">Naph</text>
<text x="482.04" y="1523.8" font-size="32" textLength="60.4" lengthAdjust="spacingAndGlyphs">LPS</text>
<text x="187.75" y="1155.4" font-size="32" textLength="47.76" lengthAdjust="spacingAndGlyphs">WT</text>
<text x="185.3" y="1193.7" font-size="32" textLength="135.26" lengthAdjust="spacingAndGlyphs">Mint3 KO</text>
<text x="509.23" y="1201.9" font-size="32" textLength="44.54" lengthAdjust="spacingAndGlyphs">NS</text>
<text x="577.7" y="1261.2" font-size="32" textLength="45.09" lengthAdjust="spacingAndGlyphs">NS</text>
<g transform="translate(35.7,1311.8) rotate(-90)"><text x="-2" y="0" font-size="30.5" textLength="85.71" lengthAdjust="spacingAndGlyphs">pg/mL</text></g>
<text x="314.5" y="1076.4" font-size="40.5" textLength="114.51" lengthAdjust="spacingAndGlyphs">TNF-α</text>
<rect x="148.9" y="1133.6" width="22.4" height="20.1" fill="#56a0fb" stroke="#000" stroke-width="3.6"/>
<rect x="148.9" y="1171.9" width="22.4" height="20.1" fill="#f84040" stroke="#000" stroke-width="3.6"/>
<line x1="427.3" y1="1121.9" x2="565" y2="1121.9" stroke-width="2.2" stroke="#000"/>
<line x1="471.1" y1="1211.1" x2="609" y2="1211.1" stroke-width="2.2" stroke="#000"/>
<text x="491.48" y="1126.73" font-size="31.06" textLength="36.26" lengthAdjust="spacingAndGlyphs">***</text>
<text x="456.75" y="1279.71" font-size="37.7" textLength="29.34" lengthAdjust="spacingAndGlyphs">**</text>
<text x="0.3" y="1057.1" font-size="47">f</text>
</g>
<g id="pg">
<g>
<path d="M853.3,1447.1 A5,5 0 0 1 863.3,1447.1" fill="none" stroke="#000" stroke-width="3"/>
<path d="M866.9,1447.1 A5,5 0 0 1 876.9,1447.1" fill="none" stroke="#000" stroke-width="3"/>
<path d="M880.5,1447.1 A5,5 0 0 1 890.5,1447.1" fill="none" stroke="#000" stroke-width="3"/>
<path d="M897.8,1447.1 A5,5 0 0 1 907.8,1447.1" fill="none" stroke="#000" stroke-width="3"/>
<path d="M911.4,1447.1 A5,5 0 0 1 921.4,1447.1" fill="none" stroke="#000" stroke-width="3"/>
<path d="M925,1447.1 A5,5 0 0 1 935,1447.1" fill="none" stroke="#000" stroke-width="3"/>
<path d="M984.3,1447.1 A5,5 0 0 1 994.3,1447.1" fill="none" stroke="#000" stroke-width="3"/>
<path d="M997.9,1447.1 A5,5 0 0 1 1007.9,1447.1" fill="none" stroke="#000" stroke-width="3"/>
<path d="M1011.5,1447.1 A5,5 0 0 1 1021.5,1447.1" fill="none" stroke="#000" stroke-width="3"/>
<path d="M1028.8,1447.1 A5,5 0 0 1 1038.8,1447.1" fill="none" stroke="#000" stroke-width="3"/>
<path d="M1042.4,1447.1 A5,5 0 0 1 1052.4,1447.1" fill="none" stroke="#000" stroke-width="3"/>
<path d="M1056,1447.1 A5,5 0 0 1 1066,1447.1" fill="none" stroke="#000" stroke-width="3"/>
</g>
<rect x="1114.6" y="1217.8" width="38.2" height="229.3" fill="#56a0fb" stroke="#000" stroke-width="3.4"/>
<rect x="1159.9" y="1348.1" width="37.9" height="99" fill="#f84040" stroke="#000" stroke-width="3.4"/>
<rect x="1245.2" y="1353.8" width="38.4" height="93.3" fill="#56a0fb" stroke="#000" stroke-width="3.4"/>
<rect x="1290.2" y="1350.6" width="38.2" height="96.5" fill="#f84040" stroke="#000" stroke-width="3.4"/>
<path d="M1133.5,1185.2 V1246.3 M1122,1185.2 H1145 M1122,1246.3 H1145" fill="none" stroke="#000" stroke-width="2.6"/>
<circle cx="1127" cy="1198.5" r="4.7" fill="none" stroke="#000" stroke-width="3"/>
<circle cx="1140.9" cy="1198.5" r="4.7" fill="none" stroke="#000" stroke-width="3"/>
<circle cx="1133.5" cy="1251.2" r="4.7" fill="none" stroke="#000" stroke-width="3"/>
<path d="M1178.5,1329.1 V1363.7 M1167,1329.1 H1190 M1167,1363.7 H1190" fill="none" stroke="#000" stroke-width="2.6"/>
<circle cx="1172.3" cy="1334.5" r="4.7" fill="none" stroke="#000" stroke-width="3"/>
<circle cx="1185.2" cy="1339" r="4.7" fill="none" stroke="#000" stroke-width="3"/>
<circle cx="1178.5" cy="1366.2" r="4.7" fill="none" stroke="#000" stroke-width="3"/>
<path d="M1264.3,1346.9 V1357.5 M1252.8,1346.9 H1275.8 M1252.8,1357.5 H1275.8" fill="none" stroke="#000" stroke-width="2.6"/>
<circle cx="1250.9" cy="1345.2" r="4.7" fill="none" stroke="#000" stroke-width="3"/>
<circle cx="1264.3" cy="1357.5" r="4.7" fill="none" stroke="#000" stroke-width="3"/>
<circle cx="1276.2" cy="1353.8" r="4.7" fill="none" stroke="#000" stroke-width="3"/>
<path d="M1309.5,1339.5 V1356.3 M1298,1339.5 H1321 M1298,1356.3 H1321" fill="none" stroke="#000" stroke-width="2.6"/>
<circle cx="1309.5" cy="1336.5" r="4.7" fill="none" stroke="#000" stroke-width="3"/>
<circle cx="1302.1" cy="1355.6" r="4.7" fill="none" stroke="#000" stroke-width="3"/>
<circle cx="1316.5" cy="1355.6" r="4.7" fill="none" stroke="#000" stroke-width="3"/>
<g stroke="#000" stroke-width="3.5">
<line x1="832.3" y1="1121.7" x2="832.3" y2="1540.3"/>
<line x1="823.8" y1="1447.1" x2="1352.8" y2="1447.1"/>
<line x1="823.8" y1="1123.4" x2="832.3" y2="1123.4"/>
<line x1="823.8" y1="1188.2" x2="832.3" y2="1188.2"/>
<line x1="823.8" y1="1252.4" x2="832.3" y2="1252.4"/>
<line x1="823.8" y1="1317.5" x2="832.3" y2="1317.5"/>
<line x1="823.8" y1="1382.3" x2="832.3" y2="1382.3"/>
<line x1="823.8" y1="1447.1" x2="832.3" y2="1447.1"/>
<line x1="894.9" y1="1447.1" x2="894.9" y2="1455.6"/>
<line x1="1024.7" y1="1447.1" x2="1024.7" y2="1455.6"/>
<line x1="1155.7" y1="1447.1" x2="1155.7" y2="1455.6"/>
<line x1="1286.5" y1="1447.1" x2="1286.5" y2="1455.6"/>
<line x1="1085.7" y1="1447.1" x2="1085.7" y2="1540.3"/>
<line x1="1351.1" y1="1447.1" x2="1351.1" y2="1540.3"/>
</g>
<text x="796.3" y="1129.1" font-size="24" textLength="25.15" lengthAdjust="spacingAndGlyphs">10</text>
<text x="807.02" y="1192.1" font-size="24" textLength="14.56" lengthAdjust="spacingAndGlyphs">8</text>
<text x="806.86" y="1255.2" font-size="24" textLength="14.87" lengthAdjust="spacingAndGlyphs">6</text>
<text x="807.59" y="1318.2" font-size="24" textLength="13.68" lengthAdjust="spacingAndGlyphs">4</text>
<text x="806.85" y="1386.7" font-size="24" textLength="15.03" lengthAdjust="spacingAndGlyphs">2</text>
<text x="807.16" y="1449.3" font-size="24" textLength="14.4" lengthAdjust="spacingAndGlyphs">0</text>
<text x="849.41" y="1486.7" font-size="32" textLength="97.01" lengthAdjust="spacingAndGlyphs">DMSO</text>
<text x="985.38" y="1486.7" font-size="32" textLength="78.27" lengthAdjust="spacingAndGlyphs">Naph</text>
<text x="909.74" y="1526.3" font-size="32" textLength="98.68" lengthAdjust="spacingAndGlyphs">vehicle</text>
<text x="1109.13" y="1486.7" font-size="32" textLength="96.38" lengthAdjust="spacingAndGlyphs">DMSO</text>
<text x="1246.3" y="1486.7" font-size="32" textLength="77.74" lengthAdjust="spacingAndGlyphs">Naph</text>
<text x="1191.92" y="1526.3" font-size="32" textLength="60.94" lengthAdjust="spacingAndGlyphs">LPS</text>
<text x="897.65" y="1154.6" font-size="32" textLength="47.76" lengthAdjust="spacingAndGlyphs">WT</text>
<text x="895.23" y="1193" font-size="32" textLength="133.91" lengthAdjust="spacingAndGlyphs">Mint3 KO</text>
<text x="1217.1" y="1258.7" font-size="32" textLength="45.09" lengthAdjust="spacingAndGlyphs">NS</text>
<text x="1286.65" y="1313.1" font-size="32" textLength="44.21" lengthAdjust="spacingAndGlyphs">NS</text>
<g transform="translate(782.1,1327.9) rotate(-90)"><text x="-2.04" y="0" font-size="30.5" textLength="87.06" lengthAdjust="spacingAndGlyphs">ng/mL</text></g>
<text x="1062.35" y="1093" font-size="40.5" textLength="69.91" lengthAdjust="spacingAndGlyphs">IL-6</text>
<rect x="858.1" y="1136.8" width="23.1" height="20.1" fill="#56a0fb" stroke="#000" stroke-width="3.6"/>
<rect x="858.1" y="1175.1" width="23.1" height="20.1" fill="#f84040" stroke="#000" stroke-width="3.6"/>
<line x1="1131" y1="1154" x2="1268.7" y2="1154" stroke-width="2.2" stroke="#000"/>
<line x1="1179.7" y1="1268" x2="1317.7" y2="1268" stroke-width="2.2" stroke="#000"/>
<text x="1198.89" y="1150.47" font-size="30.68" textLength="23.87" lengthAdjust="spacingAndGlyphs">**</text>
<text x="1175.43" y="1310.82" font-size="28.29" textLength="11.01" lengthAdjust="spacingAndGlyphs">*</text>
<text x="730.22" y="1057.6" font-size="47">g</text>
</g>
<g id="ph">
<text x="7.21" y="1643.1" font-size="47">h</text>
<text x="74.24" y="1677" font-size="33.5" textLength="102.64" lengthAdjust="spacingAndGlyphs">vehicle</text>
<ellipse cx="203.9" cy="1777.5" rx="80.5" ry="55.3" fill="#92d19f" stroke="#000" stroke-width="2.7"/>
<ellipse cx="367" cy="1777.5" rx="80.5" ry="55.3" fill="#bfc0c2" stroke="#000" stroke-width="2.7"/>
<text x="162.19" y="1789.9" font-size="33.5" textLength="82.74" lengthAdjust="spacingAndGlyphs">Mint3</text>
<text x="324.51" y="1789.9" font-size="33.5" textLength="80.91" lengthAdjust="spacingAndGlyphs">FIH-1</text>
<line x1="227" y1="1855.3" x2="270.71" y2="1893.92" stroke-width="3.2" stroke="#000" stroke-dasharray="8.8,5.8"/>
<polygon points="285.4,1906.9 255.41,1898.55 270.71,1893.92 273.42,1878.17" fill="#000"/>
<ellipse cx="374.7" cy="1939.7" rx="60.5" ry="36.7" fill="#8dc63f" stroke="#000" stroke-width="2.7"/>
<text x="334.25" y="1954.1" font-size="33.5" textLength="72.63" lengthAdjust="spacingAndGlyphs">Furin</text>
<line x1="488.3" y1="1937.9" x2="886.97" y2="1885.07" stroke-width="3.2" stroke="#000" stroke-dasharray="8.8,5.8"/>
<polygon points="906.4,1882.5 880.43,1899.66 886.97,1885.07 876.86,1872.7" fill="#000"/>
<ellipse cx="675.5" cy="1774.6" rx="80.9" ry="55.3" fill="#ed1c24" stroke="#000" stroke-width="2.7"/>
<text x="618.03" y="1785.2" font-size="33.5" textLength="106.44" lengthAdjust="spacingAndGlyphs">HIF-1α</text>
<line x1="800.8" y1="1767.5" x2="836.1" y2="1767.5" stroke-width="4.2" stroke="#ed1c24"/>
<polygon points="856.8,1767.5 822.3,1748.3 829.89,1767.5 822.3,1786.7" fill="#ed1c24"/>
<line x1="864.2" y1="1767.5" x2="898" y2="1767.5" stroke-width="4.2" stroke="#ed1c24"/>
<polygon points="918.7,1767.5 884.2,1748.3 891.79,1767.5 884.2,1786.7" fill="#ed1c24"/>
<rect x="942.5" y="1667.3" width="280.6" height="206.6" rx="36" ry="36" fill="#fff200" stroke="#231f20" stroke-width="4.2"/>
<text x="958.29" y="1722.8" font-size="33.5" textLength="197.22" lengthAdjust="spacingAndGlyphs">tumor growth</text>
<text x="957.09" y="1781.7" font-size="33.5" textLength="162.68" lengthAdjust="spacingAndGlyphs">metastasis</text>
<text x="957.28" y="1840.7" font-size="33.5" textLength="242.36" lengthAdjust="spacingAndGlyphs">endotoxic shock</text>
<polygon points="1279.7,1710.9 1319.5,1780.7 1283.9,1780.7 1283.9,1843 1275.3,1843 1275.3,1780.7 1239.6,1780.7" fill="#ed1c24"/>
<text x="61.41" y="2109.3" font-size="33.5" textLength="232.05" lengthAdjust="spacingAndGlyphs">Naph treatment</text>
<text x="224.71" y="2166.8" font-size="33.5" textLength="80.51" lengthAdjust="spacingAndGlyphs">Naph</text>
<ellipse cx="188.5" cy="2279.8" rx="80.7" ry="54.5" fill="#92d19f" stroke="#000" stroke-width="2.7"/>
<polygon points="258.8,2180.5 277.1,2205.1 309,2203 291.9,2228.7 303.8,2257.5 272.7,2246.4 250.5,2267.5 250.6,2236.5 223,2220.4 252.1,2211" fill="#ec008c" stroke="#231f20" stroke-width="3.4" stroke-linejoin="miter"/>
<text x="146.9" y="2292.1" font-size="33.5" textLength="82.43" lengthAdjust="spacingAndGlyphs">Mint3</text>
<ellipse cx="424" cy="2279.8" rx="80.4" ry="54.5" fill="#fbb040" stroke="#000" stroke-width="2.7"/>
<text x="382.52" y="2292.1" font-size="33.5" textLength="80.7" lengthAdjust="spacingAndGlyphs">FIH-1</text>
<path d="M303.1,2307.7 L325.8,2368.7" fill="none" stroke="#2e3192" stroke-width="3.8" stroke-dasharray="9,6.5"/>
<path d="M293.3,2382 L360.3,2359" fill="none" stroke="#2e3192" stroke-width="3.8" stroke-dasharray="3,6,9,6,9,6,9,6,9,6"/>
<line x1="218.8" y1="2373.7" x2="261.81" y2="2411.72" stroke-width="3.2" stroke="#bcbec0" stroke-dasharray="8.8,5.8"/>
<polygon points="276.5,2424.7 246.51,2416.35 261.81,2411.72 264.53,2395.97" fill="#bcbec0"/>
<ellipse cx="365.6" cy="2457.8" rx="60.4" ry="36.7" fill="#8dc63f" stroke="#000" stroke-width="2.7"/>
<text x="325.45" y="2472.5" font-size="33.5" textLength="72.52" lengthAdjust="spacingAndGlyphs">Furin</text>
<line x1="479.5" y1="2455.7" x2="878.07" y2="2402.88" stroke-width="3.2" stroke="#a7a9ac" stroke-dasharray="8.8,5.8"/>
<polygon points="897.5,2400.3 871.53,2417.46 878.07,2402.88 867.96,2390.5" fill="#a7a9ac"/>
<rect x="514.9" y="2273.8" width="60" height="11.8" fill="#2e3192"/>
<rect x="568.8" y="2249.3" width="11.8" height="60.5" fill="#2e3192"/>
<ellipse cx="679.7" cy="2280.3" rx="81.1" ry="54.9" fill="#bcbec0" stroke="#000" stroke-width="2.7"/>
<text x="621.83" y="2291.2" font-size="33.5" textLength="106.44" lengthAdjust="spacingAndGlyphs">HIF-1α</text>
<line x1="799.7" y1="2279.7" x2="833.8" y2="2279.7" stroke-width="4.2" stroke="#bcbec0" stroke-dasharray="3,5.6,10.6,30"/>
<polygon points="854.5,2279.7 820,2260.5 827.59,2279.7 820,2298.9" fill="#bcbec0"/>
<line x1="862.5" y1="2279.7" x2="896" y2="2279.7" stroke-width="4.2" stroke="#bcbec0" stroke-dasharray="3,5.6,10.6,30"/>
<polygon points="916.7,2279.7 882.2,2260.5 889.79,2279.7 882.2,2298.9" fill="#bcbec0"/>
<rect x="942.5" y="2179.8" width="279.7" height="206.6" rx="36" ry="36" fill="#fff200" stroke="#231f20" stroke-width="4.2"/>
<text x="958.29" y="2235.9" font-size="33.5" textLength="197.22" lengthAdjust="spacingAndGlyphs">tumor growth</text>
<text x="957.09" y="2294.2" font-size="33.5" textLength="162.68" lengthAdjust="spacingAndGlyphs">metastasis</text>
<text x="957.28" y="2353.2" font-size="33.5" textLength="242.36" lengthAdjust="spacingAndGlyphs">endotoxic shock</text>
<polygon points="1275.9,2213.3 1283.8,2213.3 1283.8,2275.8 1320.1,2275.8 1280,2345.7 1239.9,2275.8 1275.9,2275.8" fill="#2e3192"/>
</g>
</svg>
</body>
</html>
